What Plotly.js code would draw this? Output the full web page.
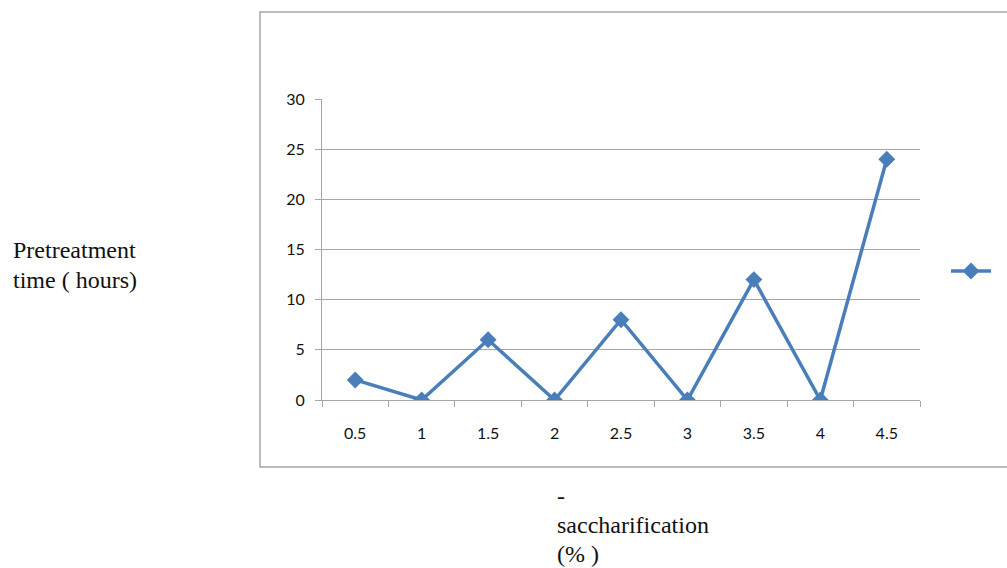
<!DOCTYPE html>
<html>
<head>
<meta charset="utf-8">
<script src="https://cdn.plot.ly/plotly-3.0.1.min.js"></script>
<style>html,body{margin:0;padding:0;background:#fff;}#chart{width:1007px;height:568px;}</style>
</head>
<body>
<div id="chart"></div>
<script>
const categories = ["0.5", "1", "1.5", "2", "2.5", "3", "3.5", "4", "4.5"];
const values = [2, 0, 6, 0, 8, 0, 12, 0, 24];
const yTitleLines = ["Pretreatment", "time ( hours)"];
const xTitleLines = ["-", "saccharification", "(% )"];

const lineColor = "#4a7ebb";
const gray = "#a6a6a6";
const tickFont = {family: "Lato", size: 16, color: "#111"};
const serif = {family: "serif", size: 24, color: "#111"};

const trace = {
  x: categories,
  y: values,
  type: "scatter",
  mode: "lines+markers",
  name: " ",
  line: {color: lineColor, width: 3.5},
  marker: {symbol: "diamond", size: 13, color: lineColor},
  showlegend: true
};

const px = v => (v - 322) / 598;
const py = v => (400 - v) / 301;

const annotations = [];
yTitleLines.forEach((t, i) => annotations.push({
  text: t, xref: "paper", yref: "paper", x: px(11), y: py(250 + 30 * i),
  xanchor: "left", yanchor: "middle", showarrow: false, font: serif
}));
xTitleLines.forEach((t, i) => annotations.push({
  text: t, xref: "paper", yref: "paper", x: px(555), y: py(496 + 29 * i),
  xanchor: "left", yanchor: "middle", showarrow: false, font: serif
}));

const layout = {
  width: 1007, height: 568,
  margin: {l: 322, r: 87, t: 99, b: 168, autoexpand: false},
  paper_bgcolor: "#fff", plot_bgcolor: "#fff",
  showlegend: true,
  legend: {x: px(946), y: py(271), xanchor: "left", yanchor: "middle",
           itemwidth: 40, font: {size: 12}, bgcolor: "rgba(0,0,0,0)"},
  xaxis: {
    type: "category",
    range: [-0.5, categories.length - 0.5],
    showgrid: false,
    showline: true, linecolor: gray, linewidth: 1,
    ticks: "outside", ticklen: 6, tickcolor: gray, tickwidth: 1,
    tickson: "boundaries",
    ticklabelstandoff: 19,
    tickfont: tickFont,
    zeroline: false
  },
  yaxis: {
    range: [0, 30],
    dtick: 5,
    showgrid: true, gridcolor: gray, gridwidth: 1,
    showline: true, linecolor: gray, linewidth: 1,
    ticks: "outside", ticklen: 6, tickcolor: gray, tickwidth: 1,
    ticklabelstandoff: 7,
    tickfont: tickFont,
    zeroline: false
  },
  shapes: [{
    type: "rect", xref: "paper", yref: "paper",
    x0: px(260), x1: px(1012),
    y0: py(467), y1: py(12),
    line: {color: gray, width: 1.5}, fillcolor: "rgba(0,0,0,0)", layer: "below"
  }],
  annotations: annotations
};

Plotly.newPlot("chart", [trace], layout, {displayModeBar: false, staticPlot: true});
</script>
</body>
</html>
